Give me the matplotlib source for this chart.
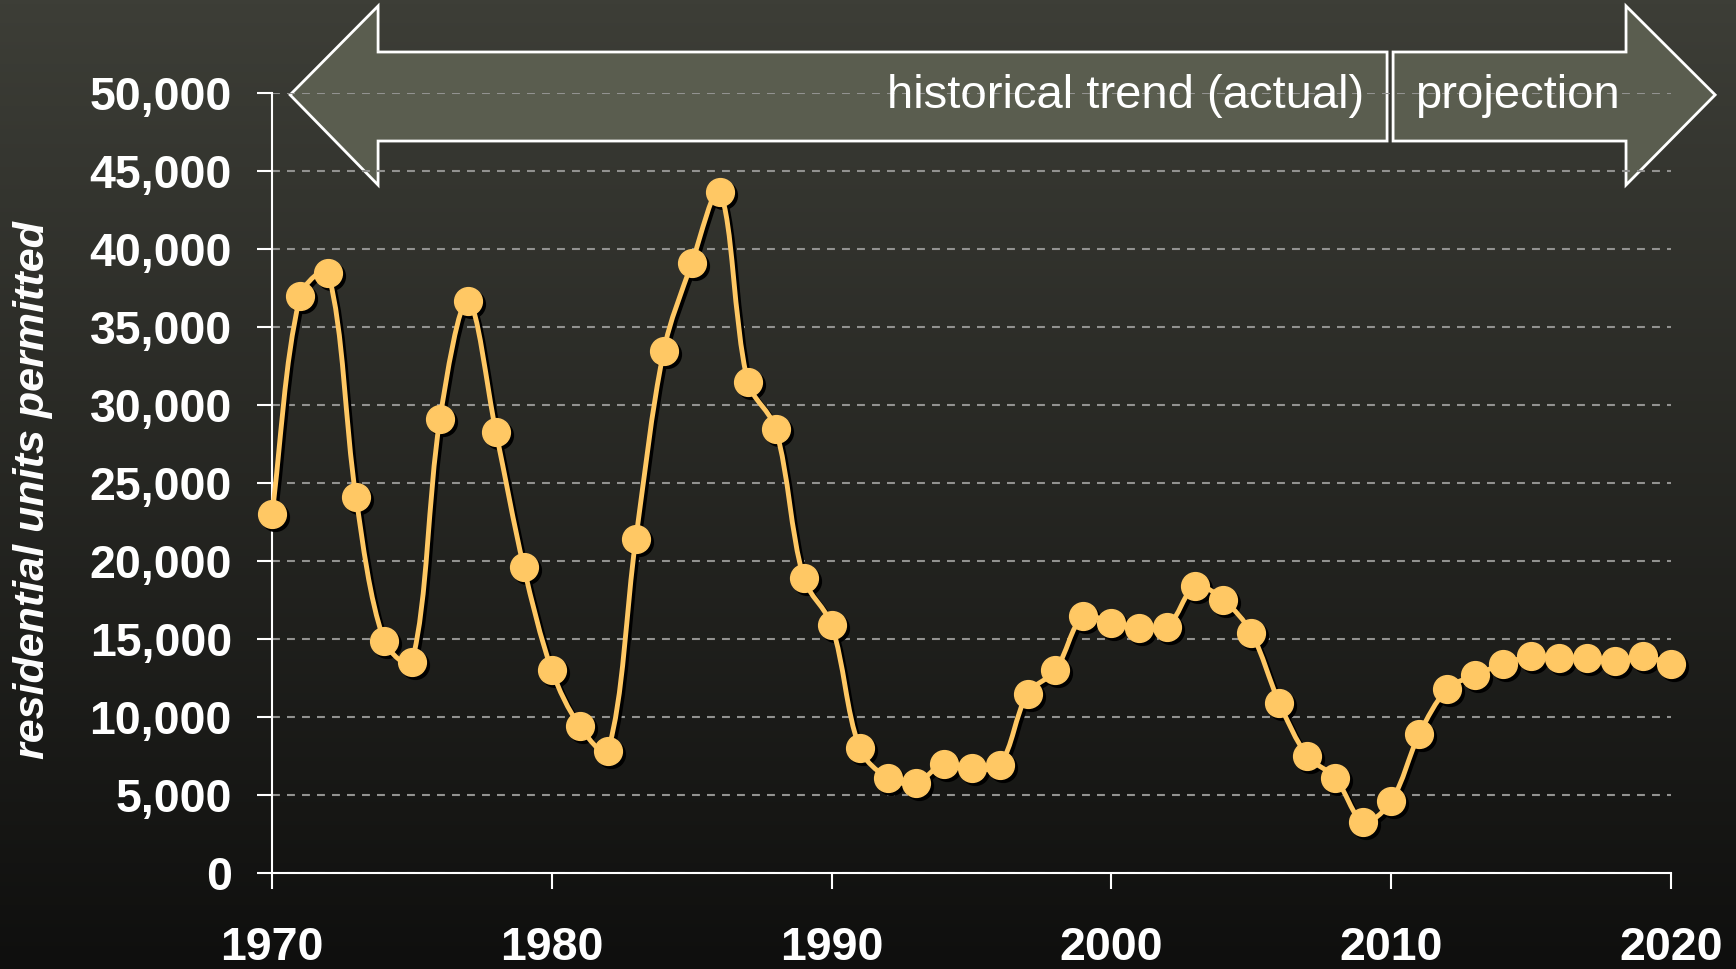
import numpy as np
import matplotlib
matplotlib.use('Agg')
import matplotlib.pyplot as plt
from matplotlib.path import Path
from matplotlib.patches import PathPatch, Polygon
from matplotlib.transforms import offset_copy

# residential units permitted per year
years = list(range(1970, 2021))
permits = [23000, 37000, 38500, 24100, 14900, 13500, 29100, 36700, 28300, 19600,
           13000, 9400, 7800, 21400, 33500, 39100, 43700, 31500, 28500, 18900,
           15900, 8000, 6100, 5750, 7000, 6700, 6900, 11500, 13000, 16500,
           16000, 15700, 15800, 18400, 17500, 15400, 10900, 7500, 6100, 3300,
           4600, 8900, 11800, 12700, 13400, 13900, 13800, 13800, 13600, 13900,
           13400]
x_ticks = [1970, 1980, 1990, 2000, 2010, 2020]
y_ticks = [0, 5000, 10000, 15000, 20000, 25000, 30000, 35000, 40000, 45000, 50000]
y_tick_labels = [f'{v:,}' for v in y_ticks]
arrow_labels = ['historical trend (actual)', 'projection']

gold = '#FFC864'
plt.rcParams['font.family'] = ['Liberation Sans', 'DejaVu Sans']


def smooth_path(ax, x, y):
    # bezier through the points, tangents scaled by chord length in screen space
    # (close to excel's "smoothed line", no big overshoots on short segments)
    pts = ax.transData.transform(np.column_stack((x, y)).astype(float))
    ext = np.vstack((pts[0], pts, pts[-1]))
    verts = [pts[0]]
    codes = [Path.MOVETO]
    for i in range(len(pts) - 1):
        p0, p1, p2, p3 = ext[i], ext[i + 1], ext[i + 2], ext[i + 3]
        d01 = np.hypot(*(p1 - p0))
        d12 = np.hypot(*(p2 - p1))
        d23 = np.hypot(*(p3 - p2))
        c1 = p1 + (p2 - p0) * d12 / max(d01 + d12, 1e-9) / 3
        c2 = p2 - (p3 - p1) * d12 / max(d12 + d23, 1e-9) / 3
        verts += [c1, c2, p2]
        codes += [Path.CURVE4] * 3
    verts = ax.transData.inverted().transform(np.array(verts))
    return Path(verts, codes)


fig = plt.figure(figsize=(17.36, 9.69), dpi=100)

# background gradient
bg = fig.add_axes([0, 0, 1, 1], zorder=-10)
top = np.array([61, 62, 55]) / 255
bottom = np.array([15, 15, 14]) / 255
t = np.linspace(0, 1, 256)[:, None]
grad = top * (1 - t) + bottom * t
bg.imshow(grad[:, None, :], aspect='auto', extent=[0, 1, 0, 1])
bg.axis('off')

ax = fig.add_axes([0.1567, 0.0991, 0.8059, 0.8046])
ax.set_facecolor('none')
ax.set_xlim(1970, 2020)
ax.set_ylim(0, 50000)
ax.set_axisbelow(True)

for s in ['top', 'right']:
    ax.spines[s].set_visible(False)
for s in ['left', 'bottom']:
    ax.spines[s].set_color('white')
    ax.spines[s].set_linewidth(1.5)

ax.set_xticks(x_ticks, labels=[str(v) for v in x_ticks], fontsize=33.5, fontweight='bold')
ax.set_yticks(y_ticks, labels=y_tick_labels, fontsize=33.5, fontweight='bold')
ax.tick_params(axis='x', direction='out', length=11.5, width=1.5, color='white', labelcolor='white', pad=27)
ax.tick_params(axis='y', direction='out', length=11, width=1.5, color='white', labelcolor='white', pad=18)
ax.grid(axis='y', color='#929290', linewidth=1.5, linestyle=(0, (3.8, 3.4)))

# big arrows behind the top gridline
left_arrow = [(0.0129, 0.998), (0.0758, 1.112), (0.0758, 1.053), (0.7970, 1.053),
              (0.7970, 0.9388), (0.0758, 0.9388), (0.0758, 0.8824)]
right_arrow = [(0.8013, 1.053), (0.9678, 1.053), (0.9678, 1.112), (1.0315, 0.998),
               (0.9678, 0.8824), (0.9678, 0.9388), (0.8013, 0.9388)]
for shape in [left_arrow, right_arrow]:
    ax.add_patch(Polygon(shape, closed=True, transform=ax.transAxes, clip_on=False,
                         facecolor='#5a5d4f', edgecolor='white', linewidth=2, zorder=0.3))
ax.text(0.7806, 0.9811, arrow_labels[0], transform=ax.transAxes, ha='right', va='baseline',
        fontsize=34, color='white', zorder=3)
ax.text(0.817, 0.9811, arrow_labels[1], transform=ax.transAxes, ha='left', va='baseline',
        fontsize=34, color='white', zorder=3)

# smoothed line + markers, both with a small drop shadow
shadow = offset_copy(ax.transData, fig=fig, x=3, y=-3, units='dots')
line_path = smooth_path(ax, years, permits)
ax.add_patch(PathPatch(line_path, facecolor='none', edgecolor='black', linewidth=3.5,
                       clip_on=False, zorder=3.4, transform=shadow))
ax.plot(years, permits, 'o', ms=20, color='black', clip_on=False, zorder=3.5, transform=shadow)
ax.add_patch(PathPatch(line_path, facecolor='none', edgecolor=gold,
                       linewidth=3.5, clip_on=False, zorder=4))
ax.plot(years, permits, 'o', ms=20, color=gold, mec=gold, clip_on=False, zorder=5)

fig.text(33 / 1736, (969 - 490) / 969, 'residential units permitted', rotation=90,
         ha='center', va='center', fontsize=31, fontweight='bold', fontstyle='italic', color='white')

fig.savefig('out.png', dpi=100)
